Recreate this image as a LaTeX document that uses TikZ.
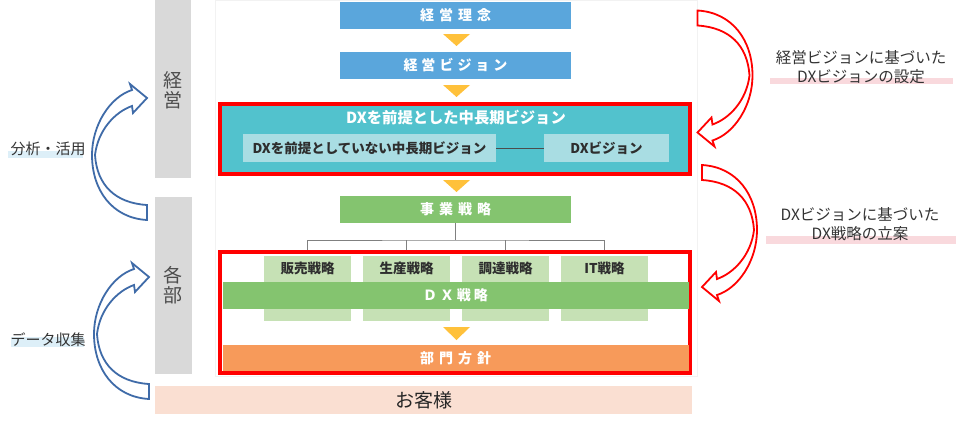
\documentclass[tikz,border=0pt]{standalone}
\usepackage{fontspec}
\setmainfont{Noto Sans CJK JP}
\definecolor{cblue}{HTML}{5AA6DC}
\definecolor{cteal}{HTML}{52C2CD}
\definecolor{cltteal}{HTML}{A9DDE3}
\definecolor{cgreen}{HTML}{84C46F}
\definecolor{cltgreen}{HTML}{C6E1B5}
\definecolor{corange}{HTML}{F79A5A}
\definecolor{ctri}{HTML}{FFC13B}
\definecolor{cpeach}{HTML}{FADFD2}
\definecolor{cgray}{HTML}{D9D9D9}
\definecolor{carrowblue}{HTML}{3F6BA8}
\definecolor{clblue}{HTML}{DDEFF8}
\definecolor{cpink}{HTML}{F9D9DD}
\definecolor{ctext}{HTML}{333333}
\tikzset{
  box/.style={rectangle, inner sep=0pt, outer sep=0pt, draw=none},
  wtext/.style={text=white, font=\bfseries\fontsize{14}{16}\selectfont},
  dtext/.style={text=ctext!90!black, font=\bfseries\fontsize{13.5}{16}\selectfont},
  lbl/.style={text=ctext, font=\fontsize{15.5}{19}\selectfont, inner sep=0pt, align=center},
  redframe/.style={draw=red, line width=4.5pt},
  tri/.style={fill=ctri, draw=none},
  tree/.style={draw=gray, line width=0.8pt},
  curvearrow/.pic={
    \path[pic actions, line width=1.8pt, fill=white, line join=miter]
      (27,68) .. controls (-8,66) and (-28,38) .. (-28,3)
      .. controls (-28,-27) and (-10,-55) .. (12,-62)
      -- (10,-68) -- (27,-54) -- (13,-39) -- (12,-46)
      .. controls (-5,-40) and (-22,-22) .. (-25,3)
      .. controls (-23,33) and (-5,51) .. (27,53) -- cycle;
  }
}
\begin{document}
\begin{tikzpicture}[x=1pt,y=-1pt]
\useasboundingbox (0,0) rectangle (968,426);
% faint frame
\draw[black!5, line width=0.6pt] (215,0) rectangle (697,376);
% gray columns
\fill[cgray] (155,0) rectangle (191,178);
\fill[cgray] (155,197) rectangle (192,374);
\node[lbl, font=\fontsize{19}{20}\selectfont, text=black!70] (keiei) at (173,90) {経\\営};
\node[lbl, font=\fontsize{19}{20}\selectfont, text=black!70] (kakubu) at (173,285) {各\\部};
% customers bar
\node[box, fill=cpeach, minimum width=537pt, minimum height=28pt] (kyaku) at (423.5,400) {};
\node[lbl, font=\fontsize{19}{20}\selectfont, text=black!85] (kyakut) at (424,400) {お客様};
% top boxes
\node[box, fill=cblue, minimum width=231pt, minimum height=27pt, wtext] (rinen) at (455.5,15.5) {経\hspace{5pt}営\hspace{5pt}理\hspace{5pt}念};
\fill[tri] (443,34) -- (470,34) -- (456.5,46) -- cycle;
\node[box, fill=cblue, minimum width=231pt, minimum height=27pt, wtext] (bvision) at (455.5,65.5) {経\hspace{4pt}営\hspace{4pt}ビ\hspace{4pt}ジ\hspace{4pt}ョ\hspace{4pt}ン};
\fill[tri] (443,85) -- (470,85) -- (456.5,97) -- cycle;
% red frame 1
\draw[redframe, fill=cteal] (220,104) rectangle (690,174);
\node[wtext, font=\bfseries\fontsize{15.3}{16}\selectfont, inner sep=0pt] (mvtitle) at (456,118) {DXを前提とした中長期ビジョン};
\node[box, fill=cltteal, minimum width=253pt, minimum height=28pt, dtext] (nodx) at (369.5,148) {DXを前提としていない中長期ビジョン};
\node[box, fill=cltteal, minimum width=125pt, minimum height=28pt, dtext] (dxv) at (606.5,148) {DXビジョン};
\draw[black!70, line width=0.8pt] (nodx.east) -- (dxv.west);
\fill[tri] (443,180) -- (470,180) -- (456.5,192) -- cycle;
% business strategy
\node[box, fill=cgreen, minimum width=231pt, minimum height=27pt, wtext] (jigyo) at (455.5,209.5) {事\hspace{5pt}業\hspace{5pt}戦\hspace{5pt}略};
% sub boxes
\node[box, fill=cltgreen, minimum width=87pt, minimum height=65pt] (s1) at (307.5,288.5) {};
\node[box, fill=cltgreen, minimum width=87pt, minimum height=65pt] (s2) at (406.5,288.5) {};
\node[box, fill=cltgreen, minimum width=87pt, minimum height=65pt] (s3) at (505.5,288.5) {};
\node[box, fill=cltgreen, minimum width=87pt, minimum height=65pt] (s4) at (604.5,288.5) {};
% tree
\coordinate (tj) at (455.5,240);
\draw[tree] (jigyo.south) -- (tj);
\draw[tree] (s1.north) |- (tj) -| (s4.north);
\draw[tree] (s2.north) -- (s2.north |- tj);
\draw[tree] (s3.north) -- (s3.north |- tj);
% red frame 2
\draw[redframe] (220,252) rectangle (690,373);
\fill[white] (222.25,254.25) rectangle (687.75,370.75);
\node[box, fill=cltgreen, minimum width=87pt, minimum height=65pt] (s1b) at (307.5,288.5) {};
\node[box, fill=cltgreen, minimum width=87pt, minimum height=65pt] (s2b) at (406.5,288.5) {};
\node[box, fill=cltgreen, minimum width=87pt, minimum height=65pt] (s3b) at (505.5,288.5) {};
\node[box, fill=cltgreen, minimum width=87pt, minimum height=65pt] (s4b) at (604.5,288.5) {};
\node[dtext, inner sep=0pt] (t1) at (307.5,268.5) {販売戦略};
\node[dtext, inner sep=0pt] (t2) at (406.5,268.5) {生産戦略};
\node[dtext, inner sep=0pt] (t3) at (505.5,268.5) {調達戦略};
\node[dtext, inner sep=0pt] (t4) at (604.5,268.5) {IT戦略};
\node[box, fill=cgreen, minimum width=466pt, minimum height=27pt, wtext] (dxs) at (455.5,295.5) {Ｄ\hspace{3pt}Ｘ\hspace{3pt}戦\hspace{3pt}略};
\fill[tri] (443,327) -- (470,327) -- (456.5,340) -- cycle;
\node[box, fill=corange, minimum width=466pt, minimum height=26pt, wtext] (bumon) at (455.5,358) {部\hspace{5pt}門\hspace{5pt}方\hspace{5pt}針};
% left curved arrows
\pic[draw=carrowblue] at (120,152) {curvearrow};
\pic[draw=carrowblue] at (122,331) {curvearrow};
% right curved arrows
\pic[draw=red, rotate=180] at (724.5,78.5) {curvearrow};
\pic[draw=red, rotate=180] at (729,233) {curvearrow};
% left labels
\fill[clblue] (8,151) rectangle (83,158);
\node[lbl, font=\fontsize{15}{18}\selectfont] (bunseki) at (48,149) {分析・活用};
\fill[clblue] (11,337) rectangle (84,347);
\node[lbl, font=\fontsize{15}{18}\selectfont] (data) at (48,340) {データ収集};
% right labels
\fill[cpink] (770,78) rectangle (953,84);
\node[lbl] (r1) at (861,67) {経営ビジョンに基づいた\\DXビジョンの設定};
\fill[cpink] (766,236) rectangle (956,244);
\node[lbl] (r2) at (860,224) {DXビジョンに基づいた\\DX戦略の立案};
\end{tikzpicture}
\end{document}
